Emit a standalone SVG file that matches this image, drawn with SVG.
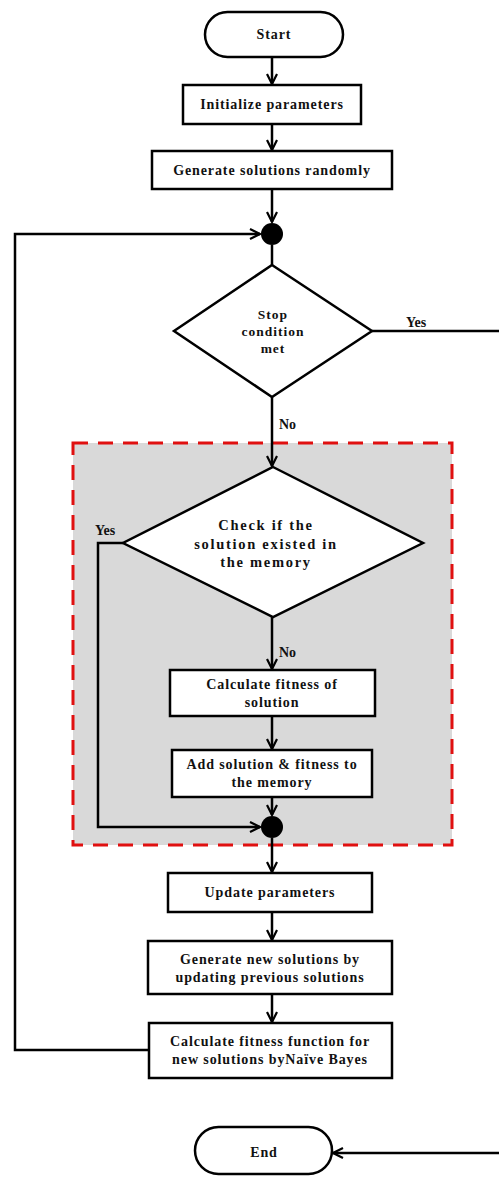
<svg xmlns="http://www.w3.org/2000/svg" width="499" height="1177" viewBox="0 0 499 1177">
<style>
.box{fill:#fff;stroke:#000;stroke-width:2.5}
.t{font-family:"Liberation Serif",serif;font-weight:bold;font-size:14px;fill:#111;text-anchor:middle;letter-spacing:0.9px}
.d{font-family:"Liberation Serif",serif;font-weight:bold;font-size:13.5px;fill:#111;text-anchor:middle;letter-spacing:1px}
.d2{font-family:"Liberation Serif",serif;font-weight:bold;font-size:14.5px;fill:#111;text-anchor:middle;letter-spacing:1.7px}
.c{fill:none;stroke:#000;stroke-width:2.5}
.lbl{font-family:"Liberation Serif",serif;font-weight:bold;font-size:14px;fill:#111}
</style>
<defs>
<marker id="ah" viewBox="0 0 12 12" refX="11" refY="6" markerWidth="12" markerHeight="12" markerUnits="userSpaceOnUse" orient="auto">
<path d="M1,1 L11,6 L1,11" fill="none" stroke="#000" stroke-width="2.2"/>
</marker>
</defs>
<rect width="499" height="1177" fill="#fff"/>
<g id="loop-region">
<rect x="73" y="443" width="379" height="402" fill="#d9d9d9" stroke="#e01010" stroke-width="3" stroke-dasharray="15,10"/>
</g>
<g id="connectors">
<line class="c" x1="272" y1="57" x2="272" y2="84" marker-end="url(#ah)"/>
<line class="c" x1="272" y1="124" x2="272" y2="150" marker-end="url(#ah)"/>
<line class="c" x1="272" y1="189" x2="272" y2="222" marker-end="url(#ah)"/>
<line class="c" x1="272" y1="245" x2="272" y2="265"/>
<polyline class="c" points="149,1050 15,1050 15,234 260,234" marker-end="url(#ah)"/>
<line class="c" x1="372" y1="331" x2="499" y2="331"/>
<line class="c" x1="272" y1="397" x2="272" y2="466" marker-end="url(#ah)"/>
<polyline class="c" points="123,543 98,543 98,827 260,827" marker-end="url(#ah)"/>
<line class="c" x1="272" y1="617" x2="272" y2="669" marker-end="url(#ah)"/>
<line class="c" x1="272" y1="716" x2="272" y2="749" marker-end="url(#ah)"/>
<line class="c" x1="272" y1="797" x2="272" y2="815" marker-end="url(#ah)"/>
<line class="c" x1="272" y1="838" x2="272" y2="872" marker-end="url(#ah)"/>
<line class="c" x1="272" y1="912" x2="272" y2="940" marker-end="url(#ah)"/>
<line class="c" x1="272" y1="994" x2="272" y2="1022" marker-end="url(#ah)"/>
<line class="c" x1="499" y1="1153" x2="333" y2="1153" marker-end="url(#ah)"/>
<text class="lbl" x="406" y="327">Yes</text>
<text class="lbl" x="279" y="429">No</text>
<text class="lbl" x="95" y="535">Yes</text>
<text class="lbl" x="279" y="657">No</text>
</g>
<g id="start">
<rect class="box" x="205" y="12" width="138" height="45" rx="22.5"/>
<text class="t" x="274" y="39">Start</text>
</g>
<g id="init">
<rect class="box" x="183" y="85" width="178" height="39"/>
<text class="t" x="272" y="109">Initialize parameters</text>
</g>
<g id="gen">
<rect class="box" x="152" y="151" width="240" height="38"/>
<text class="t" x="272" y="175">Generate solutions randomly</text>
</g>
<g id="merge1">
<circle cx="272" cy="234" r="11" fill="#000"/>
</g>
<g id="stop">
<polygon class="box" points="272,265 372,331 272,397 174,331"/>
<text class="d" x="273" y="319">Stop</text>
<text class="d" x="273" y="336">condition</text>
<text class="d" x="273" y="353">met</text>
</g>
<g id="check">
<polygon class="box" points="273,467 423,543 273,617 123,543"/>
<text class="d2" x="266" y="530">Check if the</text>
<text class="d2" x="266" y="549">solution existed in</text>
<text class="d2" x="266" y="567">the memory</text>
</g>
<g id="calc">
<rect class="box" x="170" y="670" width="205" height="46"/>
<text class="t" x="272" y="689">Calculate fitness of</text>
<text class="t" x="272" y="707">solution</text>
</g>
<g id="add">
<rect class="box" x="172" y="750" width="200" height="47"/>
<text class="t" x="272" y="769">Add solution &amp; fitness to</text>
<text class="t" x="272" y="787">the memory</text>
</g>
<g id="merge2">
<circle cx="272" cy="827" r="11" fill="#000"/>
</g>
<g id="update">
<rect class="box" x="168" y="873" width="204" height="39"/>
<text class="t" x="270" y="897">Update parameters</text>
</g>
<g id="gennew">
<rect class="box" x="148" y="941" width="244" height="53"/>
<text class="t" x="270" y="964">Generate new solutions by</text>
<text class="t" x="270" y="982">updating previous solutions</text>
</g>
<g id="calcnb">
<rect class="box" x="149" y="1023" width="243" height="55"/>
<text class="t" x="270" y="1046">Calculate fitness function for</text>
<text class="t" x="270" y="1064">new solutions byNaïve Bayes</text>
</g>
<g id="end">
<rect class="box" x="195" y="1127" width="137" height="47" rx="23.5"/>
<text class="t" x="264" y="1157">End</text>
</g>
</svg>
